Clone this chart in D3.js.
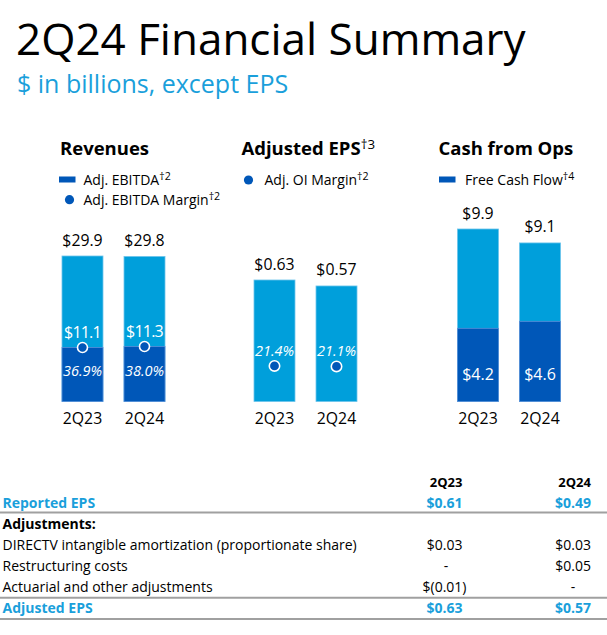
<!DOCTYPE html>
<html><head><meta charset="utf-8">
<script src="https://cdn.jsdelivr.net/npm/d3@7"></script>
<style>
html,body{margin:0;padding:0;background:#fff;}
svg{display:block;font-family:"Open Sans","Noto Sans",sans-serif;}
</style></head>
<body>
<svg id="c" width="607" height="635"></svg>
<script>
// ---- data ----
const periods = ["2Q23", "2Q24"];
const revenues = [29.9, 29.8];
const adjEbitda = [11.1, 11.3];
const ebitdaMargin = [36.9, 38.0];
const adjEps = [0.63, 0.57];
const oiMargin = [21.4, 21.1];
const cashFromOps = [9.9, 9.1];
const freeCashFlow = [4.2, 4.6];

const tableLabels = ["Reported EPS", "Adjustments:", "DIRECTV intangible amortization (proportionate share)", "Restructuring costs", "Actuarial and other adjustments", "Adjusted EPS"];
const table2Q23 = ["$0.61", "", "$0.03", "-", "$(0.01)", "$0.63"];
const table2Q24 = ["$0.49", "", "$0.03", "$0.05", "-", "$0.57"];
const tableKinds = ["total", "head", "row", "row", "row", "total"];

// ---- style ----
const LIGHT = "#009FDB", DARK = "#0057B8", TXTBLUE = "#1A9FDB";
const svg = d3.select("#c");
const BASE = 401.5;

// Titles
svg.append("text").attr("x", 16).attr("y", 54.5).attr("font-size", 44).attr("fill", "#000")
  .text("2Q24 Financial Summary");
svg.append("text").attr("x", 17).attr("y", 92.5).attr("font-size", 25).attr("fill", TXTBLUE)
  .text("$ in billions, except EPS");

function supText(g, x, y, main, sup, size, weight, supScale) {
  const t = g.append("text").attr("x", x).attr("y", y).attr("font-size", size).attr("font-weight", weight || "normal").attr("fill", "#000");
  t.append("tspan").text(main);
  if (sup) t.append("tspan").attr("font-size", size * (supScale || 0.76)).attr("font-weight", "normal").attr("dy", -size * 0.34).text(sup);
  return t;
}

function panel(opts) {
  const g = svg.append("g");
  const x = d3.scaleBand().domain(periods).range([opts.x0, opts.x0 + 103]).paddingInner(0.339).paddingOuter(0);
  const y = d3.scaleLinear().domain(opts.domain).range([BASE, opts.topPx]);
  supText(g, opts.titleX, 155, opts.title, opts.titleSup, 18.5, "bold", 0.72);
  g.selectAll("rect.tot").data(opts.totals).join("rect").attr("class", "tot")
    .attr("x", (d, i) => x(periods[i])).attr("width", x.bandwidth())
    .attr("y", d => y(d)).attr("height", d => BASE - y(d))
    .attr("fill", LIGHT).attr("stroke", "#6cc4ec").attr("stroke-width", 0.8);
  g.selectAll("text.tot").data(opts.totals).join("text").attr("class", "tot")
    .attr("x", (d, i) => x(periods[i]) + x.bandwidth() / 2).attr("y", d => y(d) - 10.5)
    .attr("text-anchor", "middle").attr("font-size", 15.8).attr("fill", "#000")
    .text(opts.fmt);
  g.selectAll("text.cat").data(periods).join("text").attr("class", "cat")
    .attr("x", d => x(d) + x.bandwidth() / 2).attr("y", 424)
    .attr("text-anchor", "middle").attr("font-size", 15.8).attr("fill", "#000").text(d => d);
  return { g, x, y };
}

// ---- Revenues ----
{
  const { g, x, y } = panel({ x0: 62, domain: [0, 29.9], topPx: 256, title: "Revenues", titleX: 60, totals: revenues, fmt: d => "$" + d.toFixed(1) });
  g.selectAll("rect.sub").data(adjEbitda).join("rect").attr("class", "sub")
    .attr("x", (d, i) => x(periods[i])).attr("width", x.bandwidth())
    .attr("y", d => y(d)).attr("height", d => BASE - y(d))
    .attr("fill", DARK).attr("stroke", "#5a8fd8").attr("stroke-width", 0.8);
  g.selectAll("text.sub").data(adjEbitda).join("text").attr("class", "sub")
    .attr("x", (d, i) => x(periods[i]) + x.bandwidth() / 2).attr("y", d => y(d) - 9.5)
    .attr("text-anchor", "middle").attr("font-size", 16).attr("letter-spacing", -0.8).attr("fill", "#fff").text(d => "$" + d.toFixed(1));
  g.selectAll("circle.m").data(adjEbitda).join("circle").attr("class", "m")
    .attr("cx", (d, i) => x(periods[i]) + x.bandwidth() / 2).attr("cy", d => y(d))
    .attr("r", 5).attr("fill", DARK).attr("stroke", "#fff").attr("stroke-width", 1.6);
  g.selectAll("text.m").data(ebitdaMargin).join("text").attr("class", "m")
    .attr("x", (d, i) => x(periods[i]) + x.bandwidth() / 2).attr("y", BASE - 25.5)
    .attr("text-anchor", "middle").attr("font-size", 14.5).attr("font-style", "italic").attr("fill", "#fff").text(d => d.toFixed(1) + "%");
  g.append("rect").attr("x", 59).attr("y", 176.5).attr("width", 16.5).attr("height", 6).attr("fill", DARK);
  supText(g, 83.5, 185, "Adj. EBITDA", "†2", 14);
  g.append("circle").attr("cx", 69.5).attr("cy", 199.7).attr("r", 4.6).attr("fill", DARK);
  supText(g, 83.5, 204.5, "Adj. EBITDA Margin", "†2", 14);
}

// ---- Adjusted EPS ----
{
  const { g, x } = panel({ x0: 254, domain: [-0.59, 0.63], topPx: 280, title: "Adjusted EPS", titleSup: "†3", titleX: 241.5, totals: adjEps, fmt: d => "$" + d.toFixed(2) });
  const ym = d3.scaleLinear().domain([0, 40]).range([BASE, 335]);
  g.selectAll("circle.m").data(oiMargin).join("circle").attr("class", "m")
    .attr("cx", (d, i) => x(periods[i]) + x.bandwidth() / 2).attr("cy", d => ym(d))
    .attr("r", 5.2).attr("fill", DARK).attr("stroke", "#fff").attr("stroke-width", 1.6);
  g.selectAll("text.m").data(oiMargin).join("text").attr("class", "m")
    .attr("x", (d, i) => x(periods[i]) + x.bandwidth() / 2).attr("y", d => ym(d) - 10)
    .attr("text-anchor", "middle").attr("font-size", 14.5).attr("font-style", "italic").attr("fill", "#fff").text(d => d.toFixed(1) + "%");
  g.append("circle").attr("cx", 248.5).attr("cy", 180).attr("r", 4.6).attr("fill", DARK);
  supText(g, 264.5, 185, "Adj. OI Margin", "†2", 14);
}

// ---- Cash from Ops ----
{
  const { g, x, y } = panel({ x0: 457.5, domain: [0, 9.9], topPx: 229, title: "Cash from Ops", titleX: 438.5, totals: cashFromOps, fmt: d => "$" + d.toFixed(1) });
  g.selectAll("rect.sub").data(freeCashFlow).join("rect").attr("class", "sub")
    .attr("x", (d, i) => x(periods[i])).attr("width", x.bandwidth())
    .attr("y", d => y(d)).attr("height", d => BASE - y(d))
    .attr("fill", DARK).attr("stroke", "#5a8fd8").attr("stroke-width", 0.8);
  g.selectAll("text.sub").data(freeCashFlow).join("text").attr("class", "sub")
    .attr("x", (d, i) => x(periods[i]) + x.bandwidth() / 2).attr("y", BASE - 21.5)
    .attr("text-anchor", "middle").attr("font-size", 16).attr("fill", "#fff").text(d => "$" + d.toFixed(1));
  g.append("rect").attr("x", 439).attr("y", 176.5).attr("width", 16.5).attr("height", 6).attr("fill", DARK);
  supText(g, 465, 185, "Free Cash Flow", "†4", 14);
}

// ---- Table ----
{
  const g = svg.append("g").attr("font-size", 14);
  const colR = [462.5, 591];
  const colC = [446, 573];
  const hdr = g.append("g").attr("font-weight", "bold").attr("fill", "#000");
  periods.forEach((p, i) => hdr.append("text").attr("x", colR[i]).attr("y", 486.5).attr("text-anchor", "end").attr("font-size", 13).text(p));
  const rowY = [507.5, 528.5, 550, 571, 592.3, 612.7];
  const vals = [table2Q23, table2Q24];
  tableLabels.forEach((lab, r) => {
    const kind = tableKinds[r];
    const fill = kind === "total" ? TXTBLUE : "#000";
    const fw = kind === "row" ? "normal" : "bold";
    g.append("text").attr("x", 2.5).attr("y", rowY[r]).attr("fill", fill).attr("font-weight", fw).text(lab);
    vals.forEach((col, c) => {
      const v = col[r];
      if (!v) return;
      const t = g.append("text").attr("y", rowY[r]).attr("fill", fill).attr("font-weight", fw).text(v);
      if (v === "-") t.attr("x", colC[c]).attr("text-anchor", "middle");
      else if (v.endsWith(")")) t.attr("x", colR[c] + 4).attr("text-anchor", "end");
      else t.attr("x", colR[c]).attr("text-anchor", "end");
    });
  });
  [512.5, 597.8, 619].forEach(yy => g.append("line").attr("x1", 0).attr("x2", 607).attr("y1", yy).attr("y2", yy)
    .attr("stroke", "#a0a0a0").attr("stroke-width", 2));
}
</script>
</body></html>
